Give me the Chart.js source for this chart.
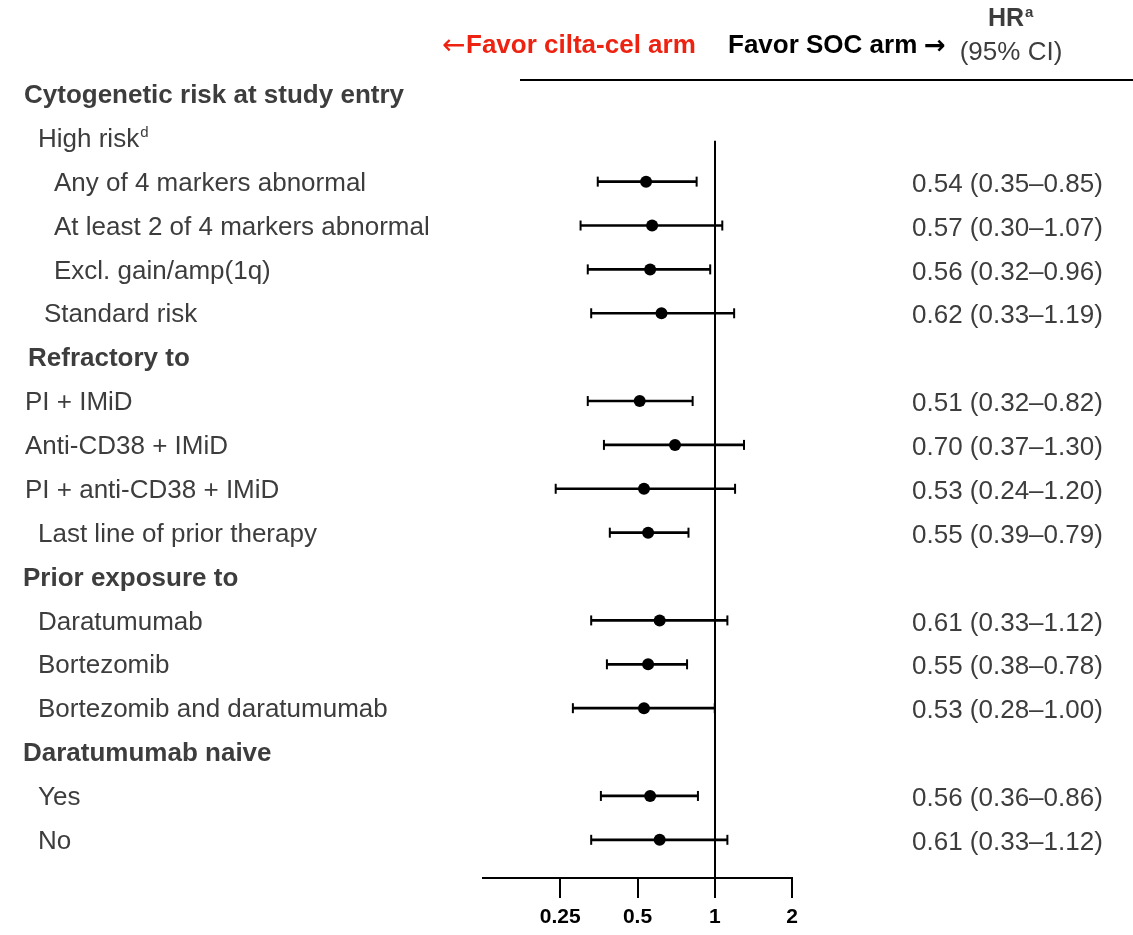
<!DOCTYPE html>
<html>
<head>
<meta charset="utf-8">
<script src="https://cdn.jsdelivr.net/npm/chart.js@4/dist/chart.umd.min.js"></script>
<style>
  body { margin: 0; background: #fff; }
  #wrap { width: 1133px; height: 935px; position: relative; }
</style>
</head>
<body>
<div id="wrap"><canvas id="forest"></canvas></div>
<script>
// rows top to bottom; null = heading row without estimate
const rowLabels = [
    'Cytogenetic risk at study entry',
    'High risk',
    'Any of 4 markers abnormal',
    'At least 2 of 4 markers abnormal',
    'Excl. gain/amp(1q)',
    'Standard risk',
    'Refractory to',
    'PI + IMiD',
    'Anti-CD38 + IMiD',
    'PI + anti-CD38 + IMiD',
    'Last line of prior therapy',
    'Prior exposure to',
    'Daratumumab',
    'Bortezomib',
    'Bortezomib and daratumumab',
    'Daratumumab naive',
    'Yes',
    'No'
];
const rowNotes = ['', 'd', '', '', '', '', '', '', '', '', '', '', '', '', '', '', '', ''];
const rowIsHeading = [true, false, false, false, false, false, true, false, false, false, false, true, false, false, false, true, false, false];

const hr     = [null, null, 0.54, 0.57, 0.56, 0.62, null, 0.51, 0.70, 0.53, 0.55, null, 0.61, 0.55, 0.53, null, 0.56, 0.61];
const ciLow  = [null, null, 0.35, 0.30, 0.32, 0.33, null, 0.32, 0.37, 0.24, 0.39, null, 0.33, 0.38, 0.28, null, 0.36, 0.33];
const ciHigh = [null, null, 0.85, 1.07, 0.96, 1.19, null, 0.82, 1.30, 1.20, 0.79, null, 1.12, 0.78, 1.00, null, 0.86, 1.12];

const xTicks = [0.25, 0.5, 1, 2];

// layout (text indents of the row labels, px)
const labelIndent = [24, 38, 54, 54, 54, 44, 28, 25, 25, 25, 38, 23, 38, 38, 38, 23, 38, 38];
const FONT = '"Liberation Sans", Arial, sans-serif';
const TEXT = '#3d3d3d';

const fmt = v => v.toFixed(2);

const rows = rowLabels.map((_, i) => i).filter(i => hr[i] !== null);

const tablePlugin = {
    id: 'forestTable',
    beforeDatasetsDraw(chart) {
        const { ctx } = chart;
        const xs = chart.scales.x, ys = chart.scales.y;
        // reference line at HR = 1
        const x1 = Math.round(xs.getPixelForValue(1));
        ctx.save();
        ctx.strokeStyle = '#000';
        ctx.lineWidth = 2;
        ctx.beginPath();
        ctx.moveTo(x1, ys.getPixelForValue(1.07));
        ctx.lineTo(x1, chart.chartArea.bottom);
        ctx.stroke();
        ctx.restore();
    },
    afterDraw(chart) {
        const { ctx } = chart;
        const ys = chart.scales.y;
        ctx.save();
        ctx.textBaseline = 'middle';

        // row labels on the left
        rowLabels.forEach((label, i) => {
            const y = ys.getPixelForValue(i) + 2;
            ctx.fillStyle = TEXT;
            ctx.textAlign = 'left';
            ctx.font = (rowIsHeading[i] ? 'bold ' : '') + '26px ' + FONT;
            ctx.fillText(label, labelIndent[i], y);
            if (rowNotes[i]) {
                const w = ctx.measureText(label).width;
                ctx.font = '15px ' + FONT;
                ctx.fillText(rowNotes[i], labelIndent[i] + w + 1, y - 7);
            }
        });

        // HR (95% CI) column
        ctx.font = '26px ' + FONT;
        ctx.fillStyle = TEXT;
        rows.forEach(i => {
            const txt = fmt(hr[i]) + ' (' + fmt(ciLow[i]) + '\u2013' + fmt(ciHigh[i]) + ')';
            ctx.fillText(txt, 912, ys.getPixelForValue(i) + 3);
        });

        // header
        ctx.font = '28px "DejaVu Sans", sans-serif';
        ctx.fillStyle = '#ee2211';
        ctx.fillText('\u2190', 442, 47);
        ctx.fillStyle = '#000';
        ctx.font = 'bold 26px "DejaVu Sans", sans-serif';
        ctx.fillText('\u2192', 924, 47);
        ctx.font = 'bold 26px ' + FONT;
        ctx.fillStyle = '#ee2211';
        ctx.fillText('Favor cilta-cel arm', 466, 46);
        ctx.fillStyle = '#000';
        ctx.fillText('Favor SOC arm', 728, 46);

        ctx.textAlign = 'center';
        ctx.fillStyle = TEXT;
        ctx.font = 'bold 25px ' + FONT;
        ctx.fillText('HR', 1006, 19);
        const hrW = ctx.measureText('HR').width;
        ctx.font = 'bold 15px ' + FONT;
        ctx.textAlign = 'left';
        ctx.fillText('a', 1006 + hrW / 2 + 1, 13);
        ctx.textAlign = 'center';
        ctx.font = '26px ' + FONT;
        ctx.fillText('(95% CI)', 1011, 53);

        ctx.strokeStyle = '#000';
        ctx.lineWidth = 2;
        ctx.beginPath();
        ctx.moveTo(520, 80);
        ctx.lineTo(1133, 80);
        ctx.stroke();
        ctx.restore();
    }
};

new Chart(document.getElementById('forest'), {
    type: 'scatter',
    data: {
        datasets: [
            {
                type: 'bar',
                indexAxis: 'y',
                label: '95% CI',
                data: rows.map(i => ({ x: [ciLow[i], ciHigh[i]], y: i })),
                backgroundColor: '#000',
                borderWidth: 0,
                barThickness: 2,
                order: 3
            },
            {
                label: 'CI caps',
                data: rows.flatMap(i => [{ x: ciLow[i], y: i }, { x: ciHigh[i], y: i }]),
                pointStyle: 'line',
                rotation: 90,
                pointRadius: 5,
                borderColor: '#000',
                borderWidth: 2,
                order: 2
            },
            {
                label: 'HR',
                data: rows.map(i => ({ x: hr[i], y: i })),
                pointStyle: 'circle',
                pointRadius: 6,
                backgroundColor: '#000',
                borderColor: '#000',
                borderWidth: 0,
                order: 1
            }
        ]
    },
    options: {
        responsive: true,
        maintainAspectRatio: false,
        animation: false,
        layout: {
            padding: { left: 483, right: 341, top: 50, bottom: 0 }
        },
        plugins: {
            legend: { display: false },
            tooltip: { enabled: false }
        },
        scales: {
            x: {
                type: 'logarithmic',
                min: 0.125,
                max: 2,
                offset: false,
                afterBuildTicks: scale => {
                    scale.ticks = xTicks.map(v => ({ value: v }));
                },
                afterFit: scale => {
                    scale.height = 57;
                },
                border: { display: true, color: '#000', width: 2 },
                grid: {
                    drawOnChartArea: false,
                    drawTicks: true,
                    tickLength: 20,
                    color: '#000',
                    lineWidth: 2
                },
                ticks: {
                    autoSkip: false,
                    maxRotation: 0,
                    padding: 7,
                    color: '#000',
                    font: { family: FONT, size: 21, weight: 'bold' },
                    callback: v => String(v)
                }
            },
            y: {
                type: 'linear',
                reverse: true,
                display: false,
                offset: false,
                min: -1,
                max: rowLabels.length - 1 + 0.87
            }
        }
    },
    plugins: [tablePlugin]
});
</script>
</body>
</html>
